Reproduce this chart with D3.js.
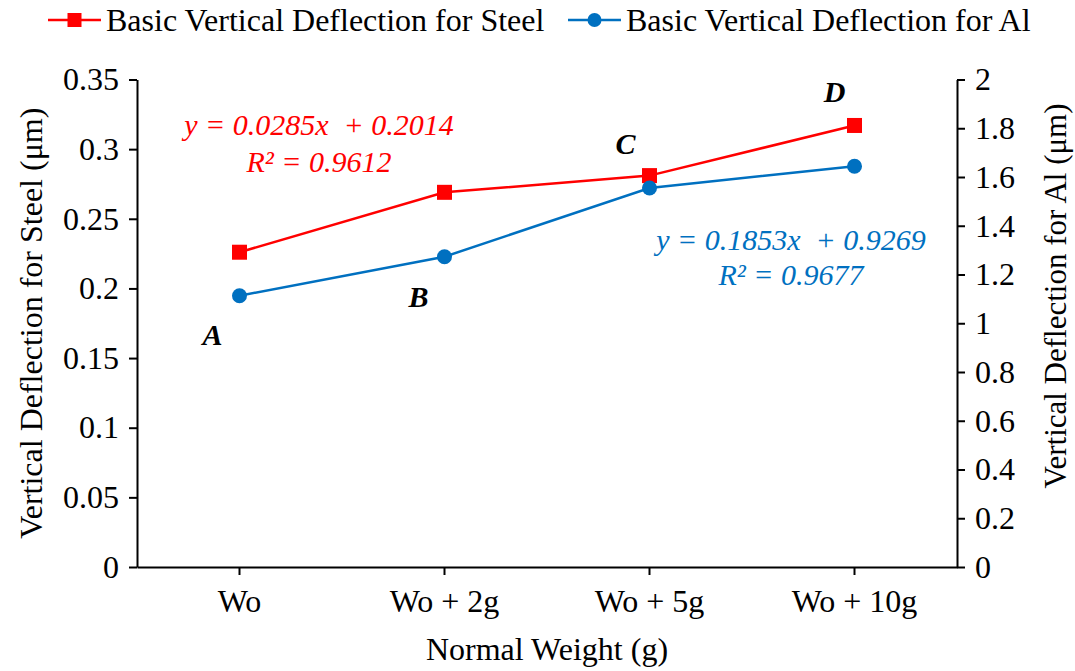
<!DOCTYPE html>
<html>
<head>
<meta charset="utf-8">
<script src="https://cdn.jsdelivr.net/npm/d3@7/dist/d3.min.js"></script>
<style>
  body { margin: 0; background: #fff; }
  svg text { font-family: "Liberation Serif", "DejaVu Serif", serif; fill: #000; }
  .axis path, .axis line { stroke: #000; stroke-width: 2; }
  .axis text { font-size: 32px; }
</style>
</head>
<body>
<svg id="chart" width="1075" height="671"></svg>
<script>
var categories = ["Wo", "Wo + 2g", "Wo + 5g", "Wo + 10g"];
var steelValues = [0.226, 0.269, 0.281, 0.317];
var alValues = [1.113, 1.273, 1.555, 1.644];
var pointLabels = ["A", "B", "C", "D"];
var steelTicks = [0, 0.05, 0.1, 0.15, 0.2, 0.25, 0.3, 0.35];
var alTicks = [0, 0.2, 0.4, 0.6, 0.8, 1, 1.2, 1.4, 1.6, 1.8, 2];
var steelEq = ["y = 0.0285x  + 0.2014", "R² = 0.9612"];
var alEq = ["y = 0.1853x  + 0.9269", "R² = 0.9677"];

var RED = "#ff0000", BLUE = "#0070c0";
var FONT = "'Liberation Serif', 'DejaVu Serif', serif";

var svg = d3.select("#chart");

// plot box (note: "top" clashes with window.top, so use other names)
var pLeft = 137, pRight = 957, pTop = 79.5, pBottom = 567;

var x = d3.scaleBand().domain(categories).range([pLeft, pRight]);
var ySteel = d3.scaleLinear().domain([0, 0.35]).range([pBottom, pTop]);
var yAl = d3.scaleLinear().domain([0, 2]).range([pBottom, pTop]);

function cx(i) { return x(categories[i]) + x.bandwidth() / 2; }

// axes
var xAxis = svg.append("g")
  .attr("class", "axis")
  .attr("transform", "translate(0," + pBottom + ")")
  .call(d3.axisBottom(x).tickSize(8).tickSizeOuter(0).tickPadding(14));
xAxis.selectAll("text").attr("dy", "0.71em");

svg.append("g")
  .attr("class", "axis")
  .attr("transform", "translate(" + pLeft + ",0)")
  .call(d3.axisLeft(ySteel).tickValues(steelTicks).tickSize(8).tickSizeOuter(0).tickPadding(10)
    .tickFormat(function (d) { return String(+d.toFixed(2)); }));

svg.append("g")
  .attr("class", "axis")
  .attr("transform", "translate(" + pRight + ",0)")
  .call(d3.axisRight(yAl).tickValues(alTicks).tickSize(8).tickSizeOuter(0).tickPadding(10)
    .tickFormat(function (d) { return String(+d.toFixed(1)); }));

svg.selectAll(".axis").attr("font-family", FONT);
svg.selectAll(".axis .domain").attr("stroke-width", 2.5);

// axis titles
svg.append("text")
  .attr("transform", "translate(42," + ((pTop + pBottom) / 2) + ") rotate(-90)")
  .attr("text-anchor", "middle")
  .style("font-size", "32px")
  .text("Vertical Deflection for Steel (μm)");

svg.append("text")
  .attr("transform", "translate(1066,296) rotate(-90)")
  .attr("text-anchor", "middle")
  .style("font-size", "31px")
  .text("Vertical Deflection for Al (μm)");

svg.append("text")
  .attr("x", (pLeft + pRight) / 2)
  .attr("y", 660)
  .attr("text-anchor", "middle")
  .style("font-size", "32px")
  .text("Normal Weight (g)");

// series
var lineSteel = d3.line().x(function (d, i) { return cx(i); }).y(function (d) { return ySteel(d); });
var lineAl = d3.line().x(function (d, i) { return cx(i); }).y(function (d) { return yAl(d); });

svg.append("path").datum(steelValues)
  .attr("d", lineSteel).attr("fill", "none").attr("stroke", RED).attr("stroke-width", 2.5);
svg.append("path").datum(alValues)
  .attr("d", lineAl).attr("fill", "none").attr("stroke", BLUE).attr("stroke-width", 2.5);

svg.selectAll(".mk-steel").data(steelValues).enter().append("rect")
  .attr("class", "mk-steel")
  .attr("x", function (d, i) { return cx(i) - 7.5; })
  .attr("y", function (d) { return ySteel(d) - 7.5; })
  .attr("width", 15).attr("height", 15)
  .attr("fill", RED);

svg.selectAll(".mk-al").data(alValues).enter().append("circle")
  .attr("class", "mk-al")
  .attr("cx", function (d, i) { return cx(i); })
  .attr("cy", function (d) { return yAl(d); })
  .attr("r", 7.5)
  .attr("fill", BLUE);

// point letters, A/B sit under the Al points, C/D above the steel points
var letterPos = [
  function (i) { return [cx(i) - 27, yAl(alValues[i]) + 49]; },
  function (i) { return [cx(i) - 26, yAl(alValues[i]) + 50]; },
  function (i) { return [cx(i) - 24, ySteel(steelValues[i]) - 22]; },
  function (i) { return [cx(i) - 20, ySteel(steelValues[i]) - 23]; }
];
pointLabels.forEach(function (t, i) {
  var p = letterPos[i](i);
  svg.append("text")
    .attr("x", p[0]).attr("y", p[1])
    .attr("text-anchor", "middle")
    .style("font-size", "30px")
    .style("font-style", "italic")
    .style("font-weight", "bold")
    .text(t);
});

// trendline equations
function eq(lines, cxp, ys, color) {
  lines.forEach(function (t, i) {
    svg.append("text")
      .attr("x", cxp).attr("y", ys[i])
      .attr("text-anchor", "middle")
      .style("white-space", "pre")
      .style("font-size", "30px")
      .style("font-style", "italic")
      .style("fill", color)
      .text(t);
  });
}
eq(steelEq, 319, [135, 172], RED);
eq(alEq, 791, [250, 285], BLUE);

// legend
var legend = svg.append("g");
var items = [
  { name: "Basic Vertical Deflection for Steel", color: RED, shape: "square", x0: 48 },
  { name: "Basic Vertical Deflection for Al", color: BLUE, shape: "circle", x0: 568 }
];
items.forEach(function (it) {
  var g = legend.append("g").attr("transform", "translate(" + it.x0 + ",20)");
  g.append("line").attr("x1", 0).attr("x2", 53).attr("stroke", it.color).attr("stroke-width", 2.5);
  if (it.shape === "square") {
    g.append("rect").attr("x", 26.5 - 7).attr("y", -7).attr("width", 14).attr("height", 14).attr("fill", it.color);
  } else {
    g.append("circle").attr("cx", 26.5).attr("r", 7).attr("fill", it.color);
  }
  g.append("text").attr("x", 58).attr("y", 11).style("font-size", "32px").text(it.name);
});
</script>
</body>
</html>
